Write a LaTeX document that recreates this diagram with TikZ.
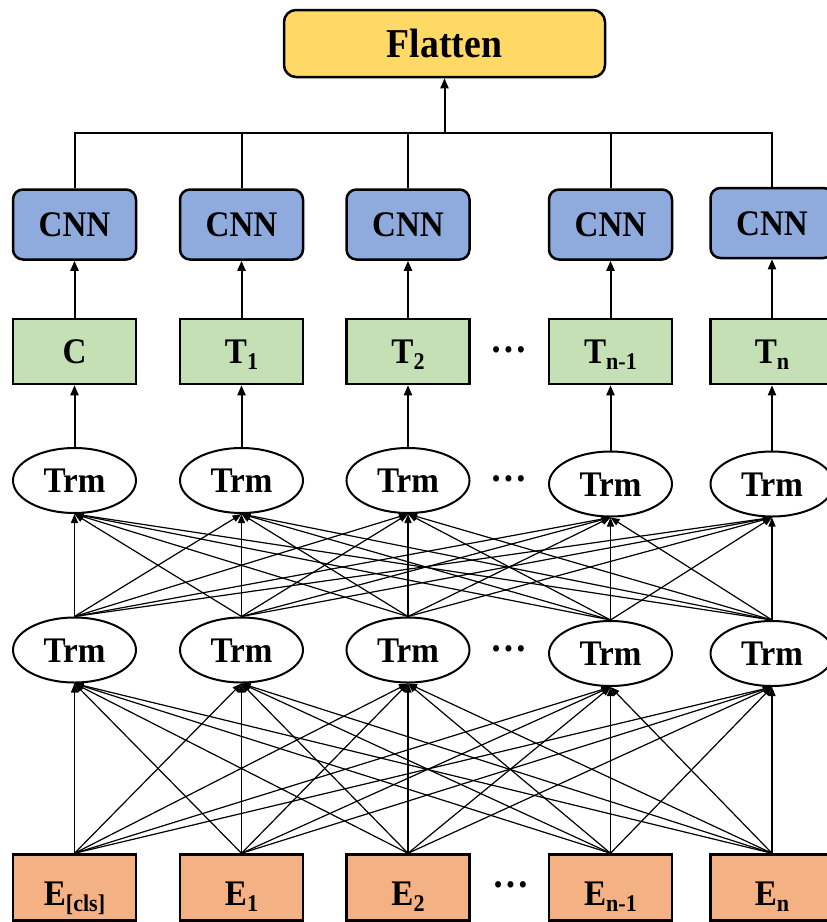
\documentclass[tikz,border=0pt]{standalone}
\usepackage{fontspec}
\setmainfont{Liberation Serif}[FakeStretch=0.92]
\usetikzlibrary{arrows.meta,shapes.geometric}
\definecolor{flatY}{HTML}{FFD966}
\definecolor{cnnB}{HTML}{8FAADC}
\definecolor{tG}{HTML}{C5E0B4}
\definecolor{eO}{HTML}{F4B183}
\newcommand\mysub[1]{\raisebox{-6pt}{\fontsize{24}{24}\selectfont #1}}
\begin{document}
\begin{tikzpicture}[x=1pt,y=-1pt,
 base/.style={draw=black, line width=2.5pt, inner sep=0pt, minimum width=123pt,
   font=\fontsize{36}{36}\selectfont\bfseries, text height=24pt, text depth=0pt},
 cnnbox/.style={base, fill=cnnB, rounded corners=10pt, minimum height=70pt},
 tbox/.style={base, fill=tG, minimum height=65pt},
 ebox/.style={base, fill=eO, minimum height=66pt, text height=36pt},
 trm/.style={base, ellipse, fill=white, line width=2pt, minimum height=65pt},
 flat/.style={base, fill=flatY, rounded corners=12pt, minimum width=321pt, minimum height=67pt,
   font=\fontsize{41}{41}\selectfont\bfseries, text height=27pt},
 dotsnode/.style={font=\fontsize{40}{40}\selectfont\bfseries, inner sep=0pt},
 conn/.style={line width=2pt, -{Triangle[length=10pt,width=8pt]}},
 fan/.style={line width=1.2pt, -{Triangle[length=9pt,width=7pt]}},
 ]
\useasboundingbox (0,0) rectangle (827,922);
% Flatten
\node[flat] (flat) at (444.5,43.5) {Flatten};
% CNN row
\node[cnnbox] (cnn1) at (74.5,224.5) {CNN};
\node[cnnbox] (cnn2) at (241.5,224.5) {CNN};
\node[cnnbox] (cnn3) at (408,224.5) {CNN};
\node[cnnbox] (cnn4) at (610.5,224.5) {CNN};
\node[cnnbox] (cnn5) at (772,223) {CNN};
% T row
\node[tbox] (t1) at (74.5,351.5) {C};
\node[tbox] (t2) at (241.5,351.5) {T\mysub{1}};
\node[tbox] (t3) at (408,351.5) {T\mysub{2}};
\node[tbox] (t4) at (610.5,351.5) {T\mysub{n-1}};
\node[tbox] (t5) at (772,351.5) {T\mysub{n}};
% upper Trm row
\node[trm] (ut1) at (74.5,480.5) {Trm};
\node[trm] (ut2) at (241.5,480.5) {Trm};
\node[trm] (ut3) at (408,480.5) {Trm};
\node[trm] (ut4) at (610.5,484) {Trm};
\node[trm] (ut5) at (772,484) {Trm};
% lower Trm row
\node[trm] (lt1) at (74.5,650) {Trm};
\node[trm] (lt2) at (241.5,650) {Trm};
\node[trm] (lt3) at (408,650) {Trm};
\node[trm] (lt4) at (610.5,653.5) {Trm};
\node[trm] (lt5) at (772,653.5) {Trm};
% E row
\node[ebox] (e1) at (74.5,887.5) {E\mysub{[cls]}};
\node[ebox] (e2) at (241.5,887.5) {E\mysub{1}};
\node[ebox] (e3) at (408,887.5) {E\mysub{2}};
\node[ebox] (e4) at (610.5,887.5) {E\mysub{n-1}};
\node[ebox] (e5) at (772,887.5) {E\mysub{n}};
% dots
\node[dotsnode] (d1) at (509,350) {…};
\node[dotsnode] (d2) at (509,479) {…};
\node[dotsnode] (d3) at (509,649) {…};
\node[dotsnode] (d4) at (511,885) {…};
% bus to Flatten
\coordinate (bus) at (444.5,133);
\draw[line width=2pt] (cnn1.north) -- (cnn1.north |- bus) -- (cnn5.north |- bus) -- (cnn5.north);
\foreach \k in {2,3,4} \draw[line width=2pt] (cnn\k.north) -- (cnn\k.north |- bus);
\draw[conn] (bus) -- (flat.south);
% vertical arrows
\foreach \k in {1,...,5} {
  \draw[conn] (t\k.north) -- (cnn\k.south);
  \draw[conn] (ut\k.north) -- (t\k.south);
}
% fans
\foreach \i in {1,...,5} {
  \foreach \j in {1,...,5} {
    \draw[fan] (e\i.north) -- (lt\j.south);
    \draw[fan] (lt\i.north) -- (ut\j.south);
  }
}
\end{tikzpicture}
\end{document}
